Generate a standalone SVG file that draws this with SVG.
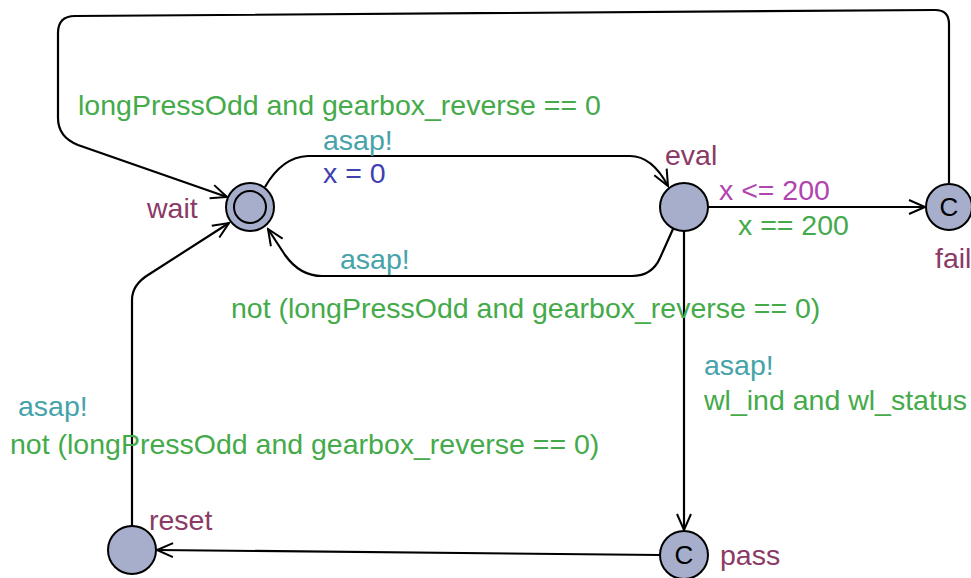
<svg xmlns="http://www.w3.org/2000/svg" width="971" height="578" viewBox="0 0 971 578">
<defs>
<marker id="arr" viewBox="0 0 20 20" refX="18" refY="10" markerWidth="20" markerHeight="20" markerUnits="userSpaceOnUse" orient="auto">
<path d="M2 3 L18 10 L2 17" fill="none" stroke="#000" stroke-width="2"/>
</marker>
<style>
text{font-family:"Liberation Sans",Arial,sans-serif;font-size:28.5px}
.loc{fill:#a6aecb;stroke:#000;stroke-width:2}
.e{fill:none;stroke:#000;stroke-width:2.2;marker-end:url(#arr)}
.name{fill:#8b3a66}
.sync{fill:#46a3aa}
.assign{fill:#4040b0}
.guard{fill:#44aa4a}
.inv{fill:#b044b0}
.c{fill:#000;font-size:26px;text-anchor:middle}
</style>
</defs>
<rect width="971" height="578" fill="#fff"/>
<g id="connectors">
<path class="e" d="M265 187 Q282 157 308 156 L630 156 Q652 156 668 186"/>
<path class="e" d="M673 229 L660 258 Q652 276 632 276 L322 276 Q300 276 285 255 L268 229"/>
<path class="e" d="M708 207 L925 207"/>
<path class="e" d="M684 231 L684 530"/>
<path class="e" d="M660 555 L157 550"/>
<path class="e" d="M132 526 L132 300 Q132 285 148 275 L229 223"/>
<path class="e" d="M949 183 L949 24 Q949 10 935 10 L75 16 Q58 16 58 33 L58 118 Q58 137 78 145 L227 197"/>
</g>
<g id="wait">
<circle class="loc" cx="250" cy="207" r="24"/>
<circle class="loc" cx="250" cy="207" r="16"/>
<text class="name" x="147" y="218">wait</text>
</g>
<g id="eval">
<circle class="loc" cx="684" cy="207" r="24"/>
<text class="name" x="665" y="165">eval</text>
<text class="inv" x="719" y="200">x &lt;= 200</text>
</g>
<g id="fail">
<circle class="loc" cx="949" cy="207" r="23"/>
<text class="c" x="949" y="216">C</text>
<text class="name" x="935" y="268">fail</text>
</g>
<g id="pass">
<circle class="loc" cx="684" cy="555" r="24"/>
<text class="c" x="684" y="564">C</text>
<text class="name" x="720" y="565">pass</text>
</g>
<g id="reset">
<circle class="loc" cx="132" cy="550" r="24"/>
<text class="name" x="149" y="530">reset</text>
</g>
<g id="labels">
<text class="guard" x="78" y="115">longPressOdd and gearbox_reverse == 0</text>
<text class="sync" x="323" y="150">asap!</text>
<text class="assign" x="323" y="183">x = 0</text>
<text class="sync" x="340" y="269">asap!</text>
<text class="guard" x="231" y="318">not (longPressOdd and gearbox_reverse == 0)</text>
<text class="guard" x="738" y="235">x == 200</text>
<text class="sync" x="704" y="375">asap!</text>
<text class="guard" x="704" y="410">wl_ind and wl_status</text>
<text class="sync" x="18" y="416">asap!</text>
<text class="guard" x="10" y="454">not (longPressOdd and gearbox_reverse == 0)</text>
</g>
</svg>
